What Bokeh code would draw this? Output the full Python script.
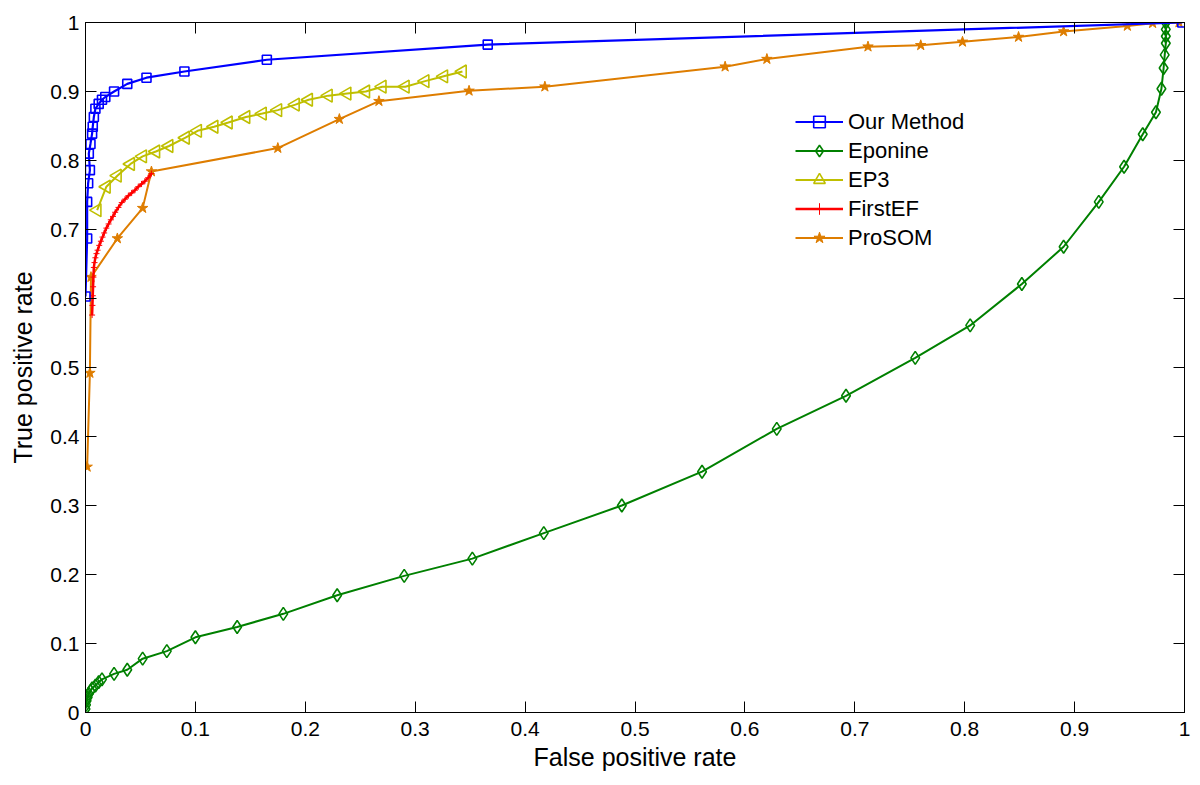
import numpy as np
from bokeh.plotting import figure
from bokeh.models import Range1d, FixedTicker, LinearAxis, CustomJSTickFormatter
from bokeh.embed import file_html
from bokeh.resources import INLINE

# ---- data ----
our_fpr = [0.0, 0.0015, 0.0015, 0.0024, 0.004, 0.003, 0.0045, 0.006, 0.0066, 0.0076, 0.009,
           0.012, 0.015, 0.018, 0.026, 0.038, 0.0555, 0.090, 0.165, 0.366, 0.998]
our_tpr = [0.603, 0.687, 0.740, 0.767, 0.786, 0.810, 0.824, 0.839, 0.849, 0.863, 0.875,
           0.882, 0.888, 0.892, 0.900, 0.911, 0.920, 0.929, 0.946, 0.968, 1.0]

epo_fpr = [0.0, 0.0005, 0.001, 0.002, 0.003, 0.0045, 0.006, 0.009, 0.012, 0.015, 0.026, 0.038,
           0.052, 0.074, 0.100, 0.138, 0.180, 0.229, 0.290, 0.352, 0.417, 0.488, 0.561, 0.629,
           0.692, 0.755, 0.805, 0.852, 0.890, 0.922, 0.945, 0.962, 0.974, 0.979, 0.981, 0.982,
           0.983, 0.983, 0.983, 0.983]
epo_tpr = [0.005, 0.011, 0.017, 0.022, 0.027, 0.031, 0.035, 0.039, 0.044, 0.048, 0.056, 0.062,
           0.078, 0.089, 0.109, 0.124, 0.143, 0.170, 0.198, 0.223, 0.260, 0.300, 0.349, 0.411,
           0.459, 0.514, 0.561, 0.621, 0.675, 0.740, 0.791, 0.838, 0.870, 0.904, 0.934, 0.953,
           0.970, 0.980, 0.990, 1.0]

ep3_fpr = [0.0106, 0.019, 0.029, 0.041, 0.052, 0.064, 0.076, 0.091, 0.102, 0.117, 0.130, 0.146,
           0.161, 0.175, 0.191, 0.203, 0.221, 0.238, 0.255, 0.270, 0.291, 0.309, 0.326, 0.343]
ep3_tpr = [0.728, 0.762, 0.778, 0.795, 0.806, 0.813, 0.821, 0.833, 0.843, 0.849, 0.855, 0.863,
           0.868, 0.873, 0.881, 0.888, 0.894, 0.897, 0.900, 0.907, 0.907, 0.915, 0.922, 0.929]

fef_fpr = [0.006, 0.0063, 0.0066, 0.0069, 0.0072, 0.0076, 0.0082, 0.009, 0.010, 0.011, 0.0125,
           0.014, 0.0155, 0.017, 0.019, 0.021, 0.023, 0.025, 0.027, 0.030, 0.033, 0.036, 0.039,
           0.042, 0.045, 0.048, 0.051, 0.054, 0.057, 0.060]
fef_tpr = [0.576, 0.590, 0.604, 0.617, 0.631, 0.645, 0.652, 0.659, 0.665, 0.670, 0.677,
           0.683, 0.689, 0.695, 0.702, 0.708, 0.714, 0.719, 0.725, 0.732, 0.739, 0.744, 0.749,
           0.753, 0.757, 0.762, 0.766, 0.770, 0.775, 0.781]

pro_fpr = [0.0015, 0.004, 0.005, 0.029, 0.052, 0.060, 0.175, 0.231, 0.267, 0.349, 0.418, 0.582,
           0.620, 0.712, 0.760, 0.798, 0.849, 0.890, 0.948, 0.971, 0.995]
pro_tpr = [0.356, 0.492, 0.631, 0.687, 0.731, 0.784, 0.818, 0.860, 0.886, 0.901, 0.907, 0.936,
           0.947, 0.965, 0.967, 0.972, 0.979, 0.987, 0.995, 0.999, 1.0]

tick_vals = [0, 0.1, 0.2, 0.3, 0.4, 0.5, 0.6, 0.7, 0.8, 0.9, 1]

FONT = "Liberation Sans"

p = figure(width=1192, height=777, x_range=Range1d(0, 1), y_range=Range1d(0, 1),
           output_backend="svg", toolbar_location=None,
           min_border_left=85, min_border_right=8, min_border_top=22, min_border_bottom=65)
p.xgrid.visible = False
p.ygrid.visible = False
p.outline_line_color = "black"
p.outline_line_width = 1

fmt = CustomJSTickFormatter(code="return String(Math.round(tick*10)/10);")
blank = CustomJSTickFormatter(code="return '';")
for ax in (p.xaxis[0], p.yaxis[0]):
    ax.ticker = FixedTicker(ticks=tick_vals)
    ax.formatter = fmt
    ax.major_tick_in = 11
    ax.major_tick_out = 0
    ax.minor_tick_line_color = None
    ax.axis_line_color = "black"
    ax.major_tick_line_color = "black"
    ax.major_label_text_font = FONT
    ax.major_label_text_font_size = "21px"
    ax.major_label_text_color = "black"
    ax.axis_label_text_font = FONT
    ax.axis_label_text_font_size = "25px"
    ax.axis_label_text_font_style = "normal"
    ax.axis_label_text_color = "black"
p.xaxis[0].axis_label = "False positive rate"
p.yaxis[0].axis_label = "True positive rate"
p.xaxis[0].major_label_standoff = 9
p.xaxis[0].axis_label_standoff = 4
p.yaxis[0].major_label_standoff = 6
p.yaxis[0].axis_label_standoff = 10

for loc in ("above", "right"):
    ax = LinearAxis(ticker=FixedTicker(ticks=tick_vals), formatter=blank,
                    major_tick_in=11, major_tick_out=0, minor_tick_line_color=None,
                    major_label_standoff=0,
                    axis_line_color="black", major_tick_line_color="black")
    p.add_layout(ax, loc)

BLUE = "#0000FF"
GREEN = "#008000"
OLIVE = "#BFBF00"
RED = "#FF0000"
ORANGE = "#DE7D00"

# Eponine
p.line(epo_fpr, epo_tpr, color=GREEN, line_width=2, legend_label="Eponine")
p.scatter(epo_fpr, epo_tpr, marker="diamond", size=13, fill_color=None, line_color=GREEN,
          line_width=1.6, legend_label="Eponine")
# EP3
p.line(ep3_fpr, ep3_tpr, color=OLIVE, line_width=2, legend_label="EP3")
p.scatter(ep3_fpr, ep3_tpr, marker="triangle", angle=np.pi / 2, size=13, fill_color=None,
          line_color=OLIVE, line_width=1.6, legend_label="EP3")
# ProSOM
p.line(pro_fpr, pro_tpr, color=ORANGE, line_width=2, legend_label="ProSOM")
p.scatter(pro_fpr, pro_tpr, marker="star", size=11, fill_color=ORANGE, line_color=ORANGE,
          line_width=1, legend_label="ProSOM")
# FirstEF
p.line(fef_fpr, fef_tpr, color=RED, line_width=2.5, legend_label="FirstEF")
p.scatter(fef_fpr, fef_tpr, marker="cross", size=6, line_color=RED, line_width=1,
          legend_label="FirstEF")
# Our method
p.line(our_fpr, our_tpr, color=BLUE, line_width=2.2, legend_label="Our Method")
p.scatter(our_fpr, our_tpr, marker="square", size=9, fill_color=None, line_color=BLUE,
          line_width=1.6, legend_label="Our Method")

# reorder legend entries as in the reference
leg = p.legend[0]
order = ["Our Method", "Eponine", "EP3", "FirstEF", "ProSOM"]
items = {it.label.value: it for it in leg.items}
leg.items = [items[k] for k in order]
leg.location = (710, 460)
leg.border_line_color = None
leg.background_fill_alpha = 0
leg.padding = 0
leg.margin = 0
leg.spacing = 0
leg.label_height = 29
leg.glyph_height = 29
leg.glyph_width = 48
leg.label_standoff = 5
leg.label_text_font = FONT
leg.label_text_font_size = "22px"
leg.label_text_color = "black"

open("out.html", "w").write(file_html(p, INLINE))
